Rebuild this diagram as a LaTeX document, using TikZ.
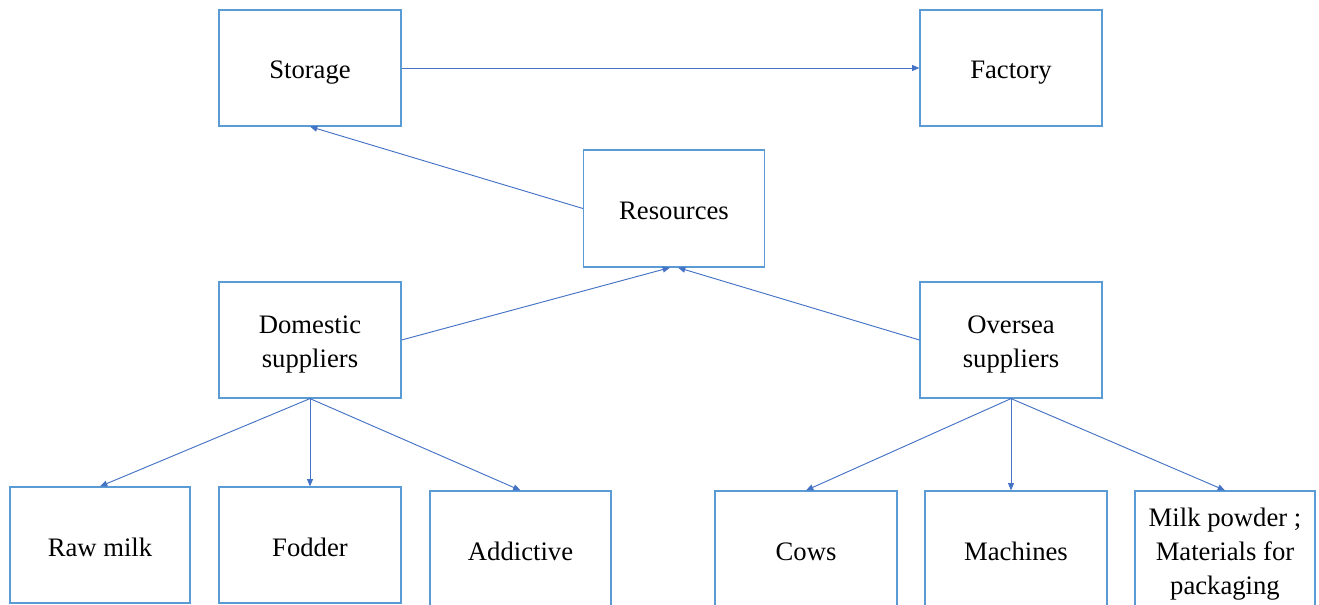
\documentclass[tikz,border=0pt]{standalone}
\usepackage{fontspec}
\setmainfont{Liberation Serif}
\usetikzlibrary{arrows.meta}
\definecolor{boxblue}{HTML}{5B9BD5}
\definecolor{arrblue}{HTML}{4472C4}
\newcommand\wordstrut{\rule[-0.216em]{0pt}{1.257em}}
\begin{document}
\begin{tikzpicture}[x=0.75pt,y=-0.75pt,
  box/.style={draw=boxblue,line width=0.9pt,rectangle,inner sep=0pt,
    minimum width=#1*0.75pt,minimum height=87pt,align=center,
    font=\fontsize{20}{25.5}\selectfont},
  box/.default=182,
  link/.style={draw=arrblue,line width=0.7pt,-{Triangle[length=5.5pt,width=4.5pt]}}]
\useasboundingbox (0,0) rectangle (1319,605);
\clip (0,0) rectangle (1319,605);
\fill[white] (0,0) rectangle (1319,605);
\node[box] (S) at (310,68) {\wordstrut Storage};
\node[box] (F) at (1011,68) {\wordstrut Factory};
\node[box=181,minimum height=87.75pt] (R) at (674,208.5) {\wordstrut Resources};
\node[box] (D) at (310,340) {\wordstrut Domestic\\suppliers\wordstrut};
\node[box] (O) at (1011,340) {\wordstrut Oversea\\suppliers\wordstrut};
\node[box=180] (RM) at (100,545) {\wordstrut Raw milk};
\node[box] (FO) at (310,545) {\wordstrut Fodder};
\node[box=181] (AD) at (520.5,549) {\wordstrut Addictive};
\node[box] (CO) at (806,549) {\wordstrut Cows};
\node[box] (MA) at (1016,549) {\wordstrut Machines};
\node[box=180] (MP) at (1225,549) {\wordstrut Milk powder ;\\Materials for\\packaging\wordstrut};
\draw[link] (S.east) -- (F.west);
\draw[link] (R.west) -- (S.south);
\draw[link] (D.east) -- ([xshift=-3]R.south);
\draw[link] (O.west) -- ([xshift=3]R.south);
\draw[link] (D.south) -- (RM.north);
\draw[link] (D.south) -- (FO.north);
\draw[link] (D.south) -- (AD.north);
\draw[link] (O.south) -- (CO.north);
\draw[link] (O.south) -- (O.south |- MA.north);
\draw[link] (O.south) -- (MP.north);
\end{tikzpicture}
\end{document}
